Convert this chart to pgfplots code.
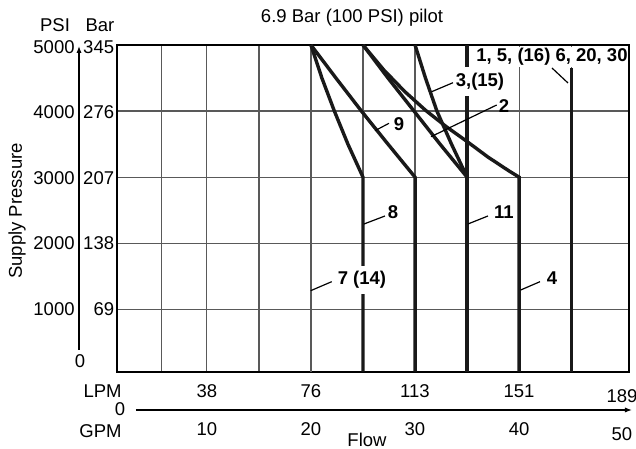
\documentclass[border=0pt]{standalone}
\usepackage{fontspec}
\setmainfont{Liberation Sans}
\usepackage{pgfplots}
\pgfplotsset{compat=1.18}
\usetikzlibrary{arrows.meta}

% one reference pixel = 0.5bp; origin of the px frame is the top-left of the picture
\tikzset{
  px/.style={shift={(-58.4bp,185.85bp)}, x=0.5bp, y=-0.5bp},
  curve/.style={line width=1.7bp, color=black!90},
  leader/.style={line width=0.6bp, black},
  lbl/.style={font=\fontsize{9.25bp}{11bp}\selectfont\bfseries, inner sep=0pt},
}

\begin{document}
\begin{tikzpicture}[font=\fontsize{9.25bp}{11bp}\selectfont]
\path[use as bounding box] (-58.4bp,-38.65bp) rectangle (259.6bp,185.85bp);

\begin{axis}[
  scale only axis,
  width=256.25bp, height=163.35bp,
  xmin=1.35, xmax=50.58, ymin=57, ymax=5000,
  xtick={5.64,10,15,20,25,30,35,40,45},
  ytick={1000,2000,3000,4000},
  xticklabels={}, yticklabels={},
  major tick length=0pt,
  grid=major,
  major grid style={line width=0.6bp, color=black!65},
  axis line style={line width=0.9bp, black},
  clip=true,
]
% 7 (14)
\addplot[line width=0.6bp, black!65] coordinates {(20,57) (20,5000)};
% 8
\addplot[curve] coordinates {(20,5000) (21.05,4500) (22.25,4000) (23.55,3500) (25,3000) (25,57)};
% 9
\addplot[curve] coordinates {(20,5000) (22.4,4500) (24.85,4000) (27.4,3500) (30,3000) (30,57)};
% 2
\addplot[curve] coordinates {(25,5000) (27.4,4500) (29.9,4000) (32.4,3500) (35,3000)};
% 4
\addplot[curve] coordinates {(25,5000) (27,4622) (29,4297) (31,4013) (33,3764) (35,3539) (37,3305) (39,3097) (40,3000) (40,57)};
% 3,(15)
\addplot[curve] coordinates {(30,5000) (31.0,4500) (32.1,4000) (33.5,3500) (35,3000)};
% 1, 5, (16) and 11
\addplot[curve] coordinates {(35,5000) (35,57)};
% 6, 20, 30
\addplot[curve] coordinates {(45,4648) (45,57)};
\end{axis}

\begin{scope}[px]
% labels inside the plot
\fill[white] (476,46.6) rectangle (628,67.5);
\node[lbl] at (552,56.5) {1, 5, (16) 6, 20, 30};
\draw[leader] (552,68) -- (568,83);
\fill[white] (455,67.5) rectangle (505,96);
\node[lbl] at (480,81.5) {3,(15)};
\draw[leader] (431.7,91.7) -- (453,82.7);
\node[lbl] at (504,106) {2};
\draw[leader] (431,136.7) -- (496.7,105);
\node[lbl] at (399,124) {9};
\draw[leader] (375,130.7) -- (389,123.3);
\node[lbl] at (393,212) {8};
\draw[leader] (364,224) -- (385,216);
\node[lbl] at (504,212) {11};
\draw[leader] (468,224) -- (488,216);
\node[lbl, fill=white, inner xsep=1bp, inner ysep=2.5bp] at (362,280) {7 (14)};
\draw[leader] (310.7,290.7) -- (331.7,281.7);
\node[lbl] at (552,278) {4};
\draw[leader] (520.7,290) -- (540,281.7);

% titles
\node at (352,18) {6.9 Bar (100 PSI) pilot};
\node at (55,25) {PSI};
\node at (100,25) {Bar};
\node[rotate=90] at (17,211) {Supply Pressure};

% pressure scales
\foreach \v/\b/\y in {5000/345/47,4000/276/111.7,3000/207/178,2000/138/243.3,1000/69/309.3}{
  \node[anchor=east, inner sep=0pt] at (75,\y) {\v};
  \node[anchor=east, inner sep=0pt] at (114.5,\y) {\b};
}
\draw[line width=0.6bp, -{Latex[length=3.5bp,width=2.6bp]}] (79,350) -- (79,46);
\node at (80,361) {0};

% flow scales
\node[anchor=east, inner sep=0pt] at (122,391) {LPM};
\node[anchor=east, inner sep=0pt] at (122,431) {GPM};
\foreach \l/\x in {38/206.8,76/310.9,113/415,151/519.1}{
  \node at (\x,391) {\l};
}
\node at (622,396) {189};
\foreach \g/\x in {10/206.8,20/310.9,30/415,40/519.1}{
  \node at (\x,429) {\g};
}
\node at (622,434) {50};
\node at (120,409) {0};
\draw[line width=0.6bp, -{Latex[length=3.5bp,width=2.6bp]}] (136,410) -- (632,410);
\node at (367,439.5) {Flow};
\end{scope}
\end{tikzpicture}
\end{document}
